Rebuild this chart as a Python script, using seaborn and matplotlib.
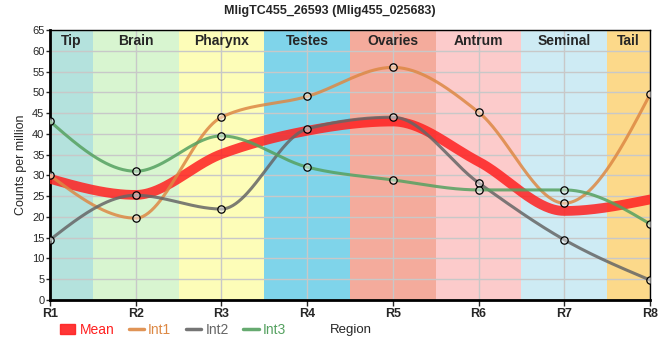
import numpy as np
import pandas as pd
import matplotlib.pyplot as plt
import seaborn as sns
from matplotlib.lines import Line2D
from matplotlib.patches import Patch

# data
regions = ["R1", "R2", "R3", "R4", "R5", "R6", "R7", "R8"]
tissues = ["Tip", "Brain", "Pharynx", "Testes", "Ovaries", "Antrum", "Seminal", "Tail"]
tissue_colors = ["#b4e2dd", "#d8f5d0", "#fdfdb8", "#7fd4ea",
                 "#f4ab9c", "#fccbcb", "#ceebf4", "#fcd98a"]
int1 = [30.0, 19.7, 44.0, 49.0, 56.0, 45.2, 23.3, 49.5]
int2 = [14.5, 25.2, 21.9, 41.2, 44.0, 28.2, 14.5, 4.8]
int3 = [43.0, 31.0, 39.5, 32.0, 28.9, 26.5, 26.5, 18.3]
mean = list(np.mean([int1, int2, int3], axis=0))

series = {"Mean": mean, "Int1": int1, "Int2": int2, "Int3": int3}
colors = {"Mean": "#ff2020", "Int1": "#dd8844", "Int2": "#666666", "Int3": "#55a160"}
widths = {"Mean": 7, "Int1": 2.2, "Int2": 2.2, "Int3": 2.2}


def monotone(y, n=60):
    # monotone cubic (like d3 curveMonotoneX) for drawing the smooth lines
    y = np.asarray(y, float)
    x = np.arange(len(y), dtype=float)
    d = np.diff(y)
    m = np.zeros_like(y)
    for i in range(1, len(y) - 1):
        if d[i - 1] * d[i] > 0:
            p = (d[i - 1] + d[i]) / 2
            m[i] = np.sign(d[i]) * min(2 * abs(d[i - 1]), 2 * abs(d[i]), abs(p))
    m[0] = (3 * d[0] - m[1]) / 2
    m[-1] = (3 * d[-1] - m[-2]) / 2
    xs, ys = [], []
    for i in range(len(y) - 1):
        t = np.linspace(0, 1, n, endpoint=(i == len(y) - 2))
        h00 = 2 * t**3 - 3 * t**2 + 1
        h10 = t**3 - 2 * t**2 + t
        h01 = -2 * t**3 + 3 * t**2
        h11 = t**3 - t**2
        xs.append(x[i] + t)
        ys.append(h00 * y[i] + h10 * m[i] + h01 * y[i + 1] + h11 * m[i + 1])
    return np.concatenate(xs), np.concatenate(ys)


sns.set_style("white")
plt.rcParams["font.family"] = ["Liberation Sans", "DejaVu Sans"]

fig = plt.figure(figsize=(6.6, 3.6), dpi=100)
ax = fig.add_axes([0.0758, 0.1667, 0.9091, 0.75])

# tissue bands
for i, (t, c) in enumerate(zip(tissues, tissue_colors)):
    ax.axvspan(i - 0.5, i + 0.5, color=c, zorder=0.1, lw=0)
    cx = min(max(i, 0.25), len(tissues) - 1.25)
    ax.text(cx, 62.4, t, ha="center", va="center", fontsize=10,
            fontweight="bold", zorder=5)

for name, vals in series.items():
    xs, ys = monotone(vals)
    sns.lineplot(x=xs, y=ys, ax=ax, color=colors[name], lw=widths[name],
                 alpha=0.85, sort=False, zorder=3)

pts = pd.DataFrame({"x": list(range(8)) * 3, "y": int1 + int2 + int3})
sns.scatterplot(data=pts, x="x", y="y", ax=ax, s=28, facecolor=(1, 1, 1, 0.45),
                edgecolor="black", linewidth=0.9, zorder=4)

ax.set_xlim(0, 7)
ax.set_ylim(0, 65)
ax.set_yticks(range(0, 66, 5))
ax.set_xticks(range(8))
ax.set_xticklabels(regions, fontweight="bold", fontsize=9)
ax.tick_params(axis="y", labelsize=8, length=3, width=1, pad=1, left=True)
ax.tick_params(axis="x", length=4, width=1, pad=2, bottom=True)
ax.set_axisbelow(True)
ax.grid(True, color="#c8c8c8", lw=1, zorder=0.5)
ax.set_xlabel("")
ax.set_ylabel("Counts per million", fontsize=9, labelpad=4)
for s in ["left", "bottom"]:
    ax.spines[s].set_linewidth(2)
    ax.spines[s].set_color("black")
for s in ["top", "right"]:
    ax.spines[s].set_linewidth(1)
    ax.spines[s].set_color("black")

fig.suptitle("MligTC455_26593 (Mlig455_025683)", fontsize=9, fontweight="bold", y=0.985)

handles = [Patch(color=colors["Mean"], alpha=0.9)] + \
          [Line2D([], [], color=colors[k], lw=2.5, alpha=0.9) for k in ["Int1", "Int2", "Int3"]]
leg = fig.legend(handles, list(series), loc="center left", bbox_to_anchor=(0.072, 0.083),
                 ncol=4, frameon=False, fontsize=10, handlelength=1.1, handletextpad=0.3,
                 columnspacing=1.05, handleheight=0.7)
for txt, k in zip(leg.get_texts(), series):
    txt.set_color(colors[k])
fig.text(0.5, 0.083, "Region", ha="left", va="center", fontsize=9.5)

fig.savefig("out.png", dpi=100)
